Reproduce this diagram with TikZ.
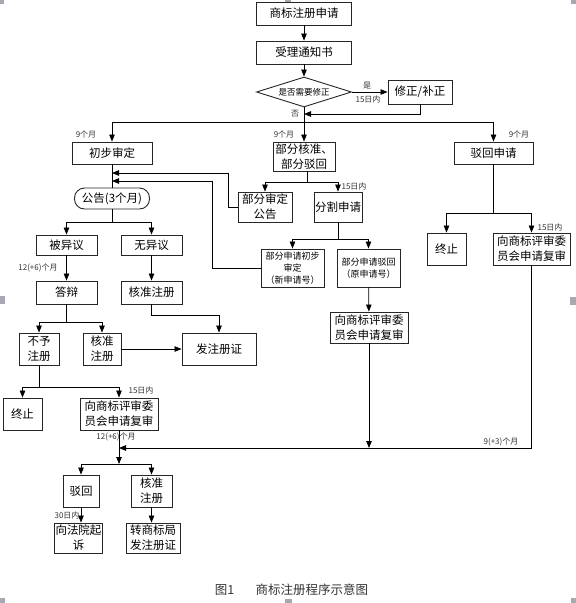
\documentclass[tikz,border=0pt]{standalone}
\usepackage{fontspec}
\setmainfont{Noto Sans CJK SC}
\usetikzlibrary{arrows.meta,shapes.geometric}
\definecolor{markgray}{RGB}{168,168,178}
\begin{document}
\begin{tikzpicture}[x=1pt,y=-1pt,
  box/.style 2 args={draw=black!85,line width=0.9pt,fill=white,minimum width=#1pt,minimum height=#2pt,inner sep=1pt,align=center,font=\fontsize{11.5}{15}\selectfont},
  smallbox/.style 2 args={box={#1}{#2},font=\fontsize{9}{12}\selectfont},
  lbl/.style={font=\fontsize{8}{9}\selectfont,inner sep=0pt,text=black!80},
  arr/.style={-{Triangle[length=7pt,width=5.5pt]},line width=0.8pt},
  ln/.style={line width=0.8pt}]
\useasboundingbox (0,0) rectangle (576,603);
\fill[markgray] (0,0) rectangle (4,4);
\fill[markgray] (285,0) rectangle (291,3);
\fill[markgray] (571,0) rectangle (576,4);
\fill[markgray] (0,296) rectangle (5,304);
\fill[markgray] (570,297) rectangle (576,305);
\fill[markgray] (0,598) rectangle (5,603);
\fill[markgray] (285,599) rectangle (292,603);
\fill[markgray] (571,598) rectangle (576,603);
\coordinate (j1) at (304,122);
\coordinate (back) at (304,114);
\coordinate (j2) at (307,182);
\coordinate (j3) at (338,239);
\coordinate (j4) at (112,222);
\coordinate (j6) at (66.5,322);
\coordinate (j7) at (39,387);
\coordinate (j8) at (119,464);
\coordinate (j9) at (493.5,213);
\coordinate (in1) at (112,173);
\coordinate (in2) at (112,181);
\coordinate (m1) at (119,448);
\node[box={95}{23}] (reg) at (304,13.5) {商标注册申请};
\node[box={95}{23}] (notice) at (304,52.5) {受理通知书};
\node[diamond,aspect=3.17,draw=black!85,line width=0.9pt,fill=white,minimum width=95pt,minimum height=30pt,inner sep=0pt,font=\fontsize{8.5}{10}\selectfont] (check) at (304,92) {是否需要修正};
\node[box={64}{24}] (fix) at (420,92) {修正/补正};
\node[box={80}{22}] (prelim) at (112,153) {初步审定};
\node[box={62}{29}] (part) at (304,156.5) {部分核准、\\部分驳回};
\node[box={79}{22}] (rej) at (493.5,153) {驳回申请};
\node[box={75}{21},rounded corners=10pt] (pub) at (112,198.5) {公告(3个月)};
\node[box={54}{30}] (partpub) at (265,207) {部分审定\\公告};
\node[box={46}{30}] (split) at (338,207) {分割申请};
\node[smallbox={63}{38}] (newno) at (292.5,268) {部分申请初步\\审定\\（新申请号）};
\node[smallbox={63}{38}] (oldno) at (368.5,268) {部分申请驳回\\（原申请号）};
\node[box={78}{31}] (rev2) at (369,327.5) {向商标评审委\\员会申请复审};
\node[box={39}{32}] (end2) at (446.5,249) {终止};
\node[box={77}{32}] (rev3) at (531.5,249) {向商标评审委\\员会申请复审};
\node[box={61}{20}] (opp) at (66.5,245) {被异议};
\node[box={61}{20}] (noopp) at (151.5,245) {无异议};
\node[box={61}{23}] (reply) at (66.5,292.5) {答辩};
\node[box={61}{23}] (appr1) at (151.5,292.5) {核准注册};
\node[box={40}{32}] (refuse) at (39,349) {不予\\注册};
\node[box={38}{32}] (appr2) at (102,349) {核准\\注册};
\node[box={74}{32}] (cert) at (219,349) {发注册证};
\node[box={39}{32}] (end1) at (22.5,414) {终止};
\node[box={78}{32}] (rev1) at (119,414) {向商标评审委\\员会申请复审};
\node[box={36}{32}] (rej2) at (81,491) {驳回};
\node[box={41}{32}] (appr3) at (151.5,491) {核准\\注册};
\node[box={47}{30}] (court) at (78.5,538) {向法院起\\诉};
\node[box={54}{30}] (trans) at (153,538) {转商标局\\发注册证};
\draw[arr] (reg) -- (notice);
\draw[arr] (notice) -- (check);
\draw[arr] (check) -- (fix);
\draw[arr] (fix.south) |- (back);
\draw[ln] (check.south) -- (j1);
\draw[arr] (j1) -| (prelim.north);
\draw[arr] (j1) -- (part.north);
\draw[arr] (j1) -| (rej.north);
\draw[ln] (part.south -| j2) -- (j2);
\draw[arr] (j2) -| (partpub.north);
\draw[arr] (j2) -| (split.north);
\draw[ln] (split.south) -- (j3);
\draw[arr] (j3) -| (newno.north);
\draw[arr] (j3) -| (oldno.north);
\draw[arr] (oldno) -- (rev2);
\draw[arr] (rev2.south) -- (rev2.south |- m1);
\draw[arr] (partpub.west) -- ++(-9,0) |- (in1);
\draw[arr] (newno.west) -- ++(-48,0) |- (in2);
\draw[ln] (prelim) -- (pub);
\draw[ln] (pub) -- (j4);
\draw[arr] (j4) -| (opp.north);
\draw[arr] (j4) -| (noopp.north);
\draw[arr] (opp) -- (reply);
\draw[arr] (noopp) -- (appr1);
\draw[ln] (reply) -- (j6);
\draw[arr] (j6) -| (refuse.north);
\draw[arr] (j6) -| (appr2.north);
\draw[arr] (appr1.south) -- ++(0,11) -| (cert.north);
\draw[arr] (appr2) -- (cert);
\draw[ln] (refuse) -- (j7);
\draw[arr] (j7) -| (end1.north);
\draw[arr] (j7) -| (rev1.north);
\draw[arr] (rev1) -- (j8);
\draw[arr] (j8) -| (rej2.north);
\draw[arr] (j8) -| (appr3.north);
\draw[arr] (rej2.south) -- (rej2.south |- court.north);
\draw[arr] (appr3.south) -- (appr3.south |- trans.north);
\draw[ln] (rej) -- (j9);
\draw[arr] (j9) -| (end2.north);
\draw[arr] (j9) -| (rev3.north);
\draw[arr] (rev3.south) |- (m1);
\node[lbl] (yes) at (367,86) {是};
\node[lbl] (d15a) at (368,99) {15日内};
\node[lbl] (no) at (295,114) {否};
\node[lbl] (m9a) at (86,134) {9个月};
\node[lbl] (m9b) at (284,134) {9个月};
\node[lbl] (m9c) at (519,134) {9个月};
\node[lbl] (d15b) at (354,186) {15日内};
\node[lbl] (d15c) at (550,227) {15日内};
\node[lbl] (m126a) at (38,268) {12(+6)个月};
\node[lbl] (d15d) at (141,390) {15日内};
\node[lbl] (m126b) at (116,437) {12(+6)个月};
\node[lbl] (m93) at (501,442) {9(+3)个月};
\node[lbl] (d30) at (67,515) {30日内};
\node[font=\fontsize{12.5}{14}\selectfont,text=black!80] (cap) at (291.5,590) {图1\hspace{1.7em}商标注册程序示意图};
\end{tikzpicture}
\end{document}
